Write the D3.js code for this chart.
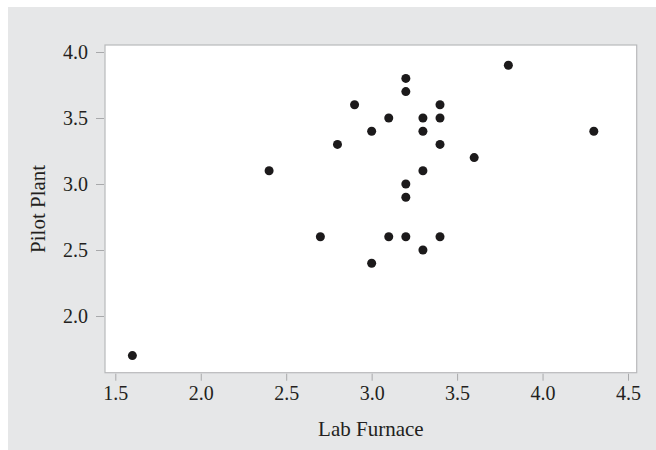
<!DOCTYPE html>
<html>
<head>
<meta charset="utf-8">
<script src="https://cdn.jsdelivr.net/npm/d3@7"></script>
<style>
  html, body { margin: 0; padding: 0; background: #ffffff; }
  svg { display: block; }
  text { font-family: "Liberation Serif", "Times New Roman", serif; fill: #231f20; }
</style>
</head>
<body>
<svg id="chart" width="656" height="450"></svg>
<script>
// Data
const labFurnace = [1.6, 2.4, 2.7, 2.8, 2.9, 3.0, 3.0, 3.1, 3.1, 3.2, 3.2, 3.2, 3.2, 3.2, 3.3, 3.3, 3.3, 3.3, 3.4, 3.4, 3.4, 3.4, 3.6, 3.8, 4.3];
const pilotPlant = [1.7, 3.1, 2.6, 3.3, 3.6, 3.4, 2.4, 3.5, 2.6, 3.8, 3.7, 3.0, 2.9, 2.6, 3.5, 3.4, 3.1, 2.5, 3.6, 3.5, 3.3, 2.6, 3.2, 3.9, 3.4];
const xTicks = [1.5, 2.0, 2.5, 3.0, 3.5, 4.0, 4.5];
const yTicks = [2.0, 2.5, 3.0, 3.5, 4.0];
const xTitle = "Lab Furnace";
const yTitle = "Pilot Plant";

const svg = d3.select("#chart");
const W = 656, H = 450;
const plot = { left: 105, top: 45, right: 636.7, bottom: 372.7 };

// background panel
svg.append("rect").attr("x", 8).attr("y", 7).attr("width", W - 8).attr("height", H - 7)
  .attr("fill", "#e6e7e8");

const x = d3.scaleLinear().domain([1.5, 4.5]).range([115.3, 628]);
const y = d3.scaleLinear().domain([2.0, 4.0]).range([316, 52]);

// plot area
svg.append("rect")
  .attr("x", plot.left).attr("y", plot.top)
  .attr("width", plot.right - plot.left).attr("height", plot.bottom - plot.top)
  .attr("fill", "#ffffff").attr("stroke", "#b8b9bb").attr("stroke-width", 1.2);

// x axis
const xAxis = svg.append("g")
  .attr("transform", `translate(0,${plot.bottom + 1})`)
  .call(d3.axisBottom(x).tickValues(xTicks).tickFormat(d3.format(".1f")).tickSizeOuter(0).tickSize(7).tickPadding(5));
xAxis.select(".domain").remove();
xAxis.selectAll(".tick line").attr("stroke", "#a8a9ab");
xAxis.selectAll(".tick text").attr("font-size", 20).attr("font-family", "Liberation Serif").attr("fill", "#231f20");

// y axis
const yAxis = svg.append("g")
  .attr("transform", `translate(${plot.left - 1},0)`)
  .call(d3.axisLeft(y).tickValues(yTicks).tickFormat(d3.format(".1f")).tickSizeOuter(0).tickSize(8).tickPadding(8));
yAxis.select(".domain").remove();
yAxis.selectAll(".tick line").attr("stroke", "#a8a9ab");
yAxis.selectAll(".tick text").attr("font-size", 20).attr("font-family", "Liberation Serif").attr("fill", "#231f20");

// titles
svg.append("text").attr("x", (plot.left + plot.right) / 2).attr("y", 436)
  .attr("text-anchor", "middle").attr("font-size", 21).text(xTitle);
svg.append("text").attr("transform", `translate(45,${(plot.top + plot.bottom) / 2}) rotate(-90)`)
  .attr("text-anchor", "middle").attr("font-size", 21).text(yTitle);

// points
svg.append("g").selectAll("circle")
  .data(labFurnace.map((v, i) => [v, pilotPlant[i]]))
  .join("circle")
  .attr("cx", d => x(d[0]))
  .attr("cy", d => y(d[1]))
  .attr("r", 4.5)
  .attr("fill", "#1c1a1b");
</script>
</body>
</html>
